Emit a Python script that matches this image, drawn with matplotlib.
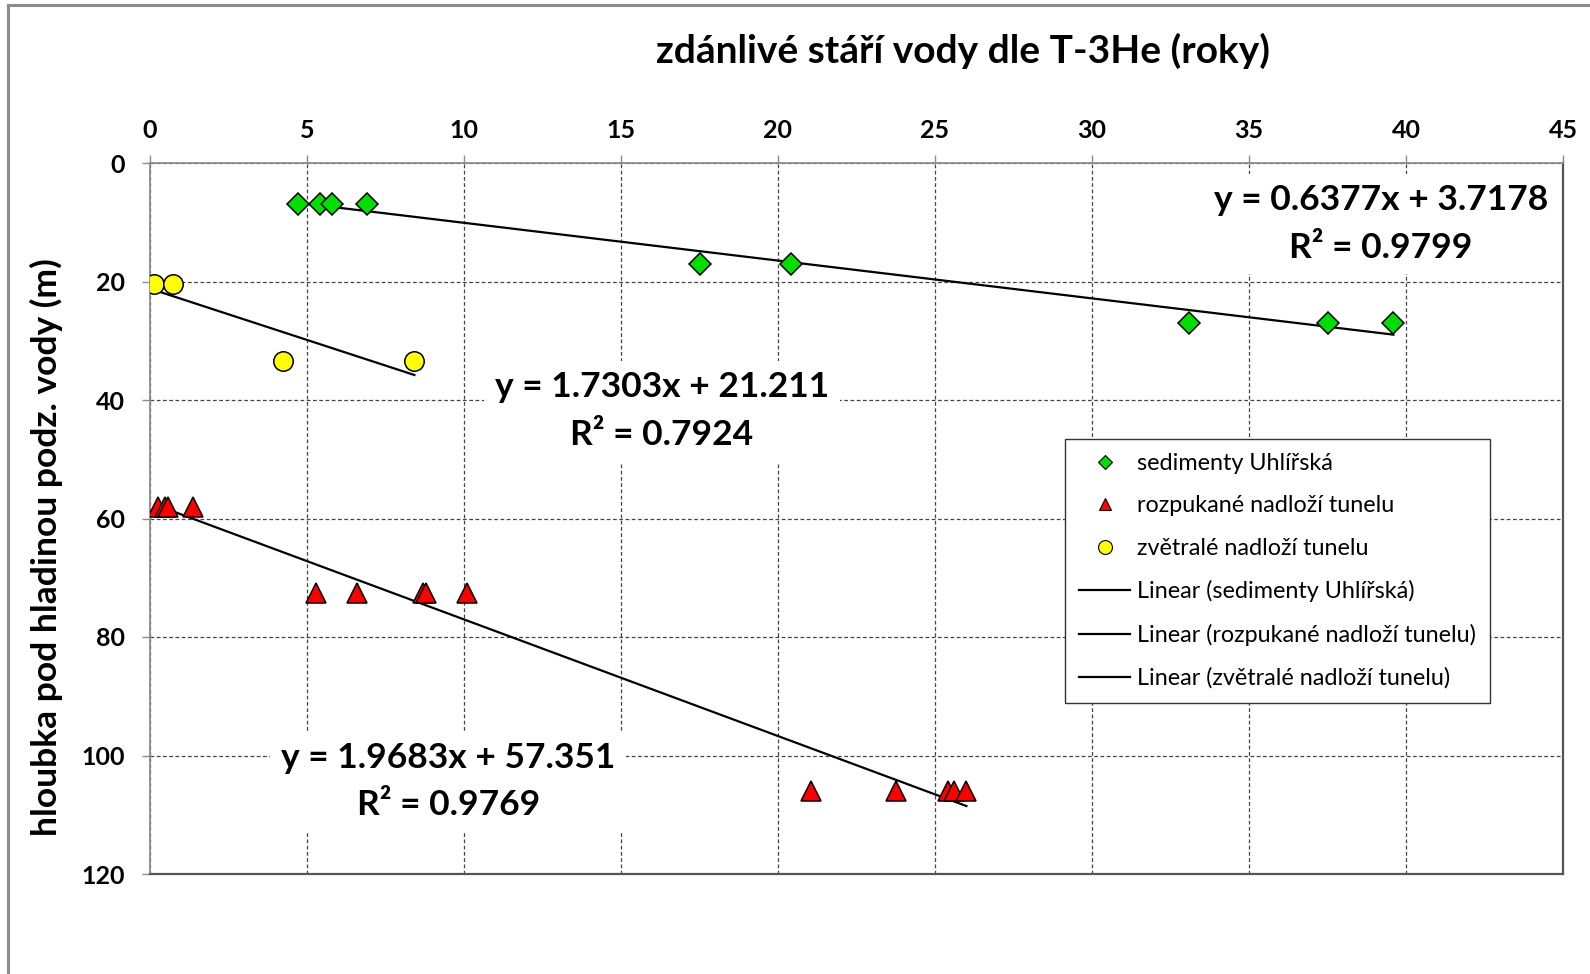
import matplotlib
matplotlib.use("Agg")
import matplotlib.pyplot as plt
from matplotlib.lines import Line2D

plt.rcParams['font.family'] = ['Lato', 'DejaVu Sans']

# apparent water age (years) vs. depth below water table (m)
sed_x = [4.7, 5.4, 5.8, 6.9, 17.5, 20.4, 33.1, 37.5, 39.6]
sed_y = [7, 7, 7, 7, 17, 17, 27, 27, 27]

roz_x = [0.26, 0.48, 0.58, 1.36, 5.3, 6.6, 8.7, 8.8, 10.1, 21.05, 23.75, 25.4, 25.6, 26.0]
roz_y = [58, 58, 58, 58, 72.5, 72.5, 72.5, 72.5, 72.5, 106, 106, 106, 106, 106]

zve_x = [0.14, 0.72, 4.22, 8.42]
zve_y = [20.5, 20.5, 33.5, 33.5]

# linear trends (slope, intercept, R2)
sed_fit = (0.6377, 3.7178, 0.9799)
roz_fit = (1.9683, 57.351, 0.9769)
zve_fit = (1.7303, 21.211, 0.7924)
fit_text = ['y = 0.6377x + 3.7178\nR² = 0.9799',
            'y = 1.9683x + 57.351\nR² = 0.9769',
            'y = 1.7303x + 21.211\nR² = 0.7924']

names = ['sedimenty Uhlířská', 'rozpukané nadloží tunelu', 'zvětralé nadloží tunelu']

W, H = 1590, 974
fig = plt.figure(figsize=(W / 100, H / 100), dpi=100)
ax = fig.add_axes([150 / W, 1 - 874 / H, (1563 - 150) / W, (874 - 163) / H])

# chart border (only top and left edges show)
fig.add_artist(Line2D([8 / W, 1], [1 - 5 / H, 1 - 5 / H], transform=fig.transFigure, color='#8c8c8c', lw=2.2))
fig.add_artist(Line2D([8 / W, 8 / W], [0, 1 - 5 / H], transform=fig.transFigure, color='#8c8c8c', lw=2.2))


def trend(xs, fit):
    x0, x1 = min(xs), max(xs)
    return [x0, x1], [fit[0] * x0 + fit[1], fit[0] * x1 + fit[1]]


for xs, fit in [(sed_x, sed_fit), (roz_x, roz_fit), (zve_x, zve_fit)]:
    tx, ty = trend(xs, fit)
    ax.plot(tx, ty, color='black', lw=1.6, zorder=3)

ax.plot(sed_x, sed_y, 'D', ms=11, mfc='#00e000', mec='black', mew=1.1, ls='none', zorder=4)
ax.plot(roz_x, roz_y, '^', ms=15, mfc='#ff0000', mec='black', mew=1.1, ls='none', zorder=4)
ax.plot(zve_x, zve_y, 'o', ms=14, mfc='#ffff00', mec='black', mew=1.1, ls='none', zorder=4)

ax.set_xlim(0, 45)
ax.set_ylim(120, 0)
ax.set_xticks(range(0, 46, 5))
ax.set_yticks(range(0, 121, 20))
ax.xaxis.tick_top()
ax.tick_params(axis='both', direction='out', length=6, width=1, color='#8c8c8c',
               labelsize=18)
ax.tick_params(axis='x', pad=9)
ax.tick_params(axis='y', pad=12)
for lab in ax.get_xticklabels() + ax.get_yticklabels():
    lab.set_fontweight('bold')

ax.grid(True, color='#444444', lw=0.9, ls=(0, (3, 2)))
ax.set_axisbelow(True)
for side in ['top', 'left']:
    ax.spines[side].set_color('#8c8c8c')
    ax.spines[side].set_linewidth(1.3)
for side in ['right', 'bottom']:
    ax.spines[side].set_color('#555555')
    ax.spines[side].set_linewidth(1.6)

fig.text(963 / W, 1 - 51 / H, 'zdánlivé stáří vody dle T-3He (roky)', ha='center', va='center',
         fontsize=28, fontweight='bold')
fig.text(46 / W, 1 - 547 / H, 'hloubka pod hladinou podz. vody (m)', ha='center', va='center',
         rotation=90, fontsize=25.5, fontweight='bold')

box = dict(boxstyle='square,pad=0.3', fc='white', ec='none')
for txt, (lx, ly) in zip(fit_text, [(39.2, 10.3), (9.5, 104.4), (16.3, 41.9)]):
    ax.text(lx, ly, txt, ha='center', va='center', multialignment='center',
            fontsize=25.5, fontweight='bold', linespacing=1.6, bbox=box, zorder=5)

handles = [
    Line2D([], [], marker='D', ms=7, mfc='#00e000', mec='black', mew=0.8, ls='none'),
    Line2D([], [], marker='^', ms=9, mfc='#ff0000', mec='black', mew=0.8, ls='none'),
    Line2D([], [], marker='o', ms=10, mfc='#ffff00', mec='black', mew=0.8, ls='none'),
    Line2D([], [], color='black', lw=1.6),
    Line2D([], [], color='black', lw=1.6),
    Line2D([], [], color='black', lw=1.6),
]
labels = names + ['Linear (%s)' % n for n in names]
leg = ax.legend(handles, labels, loc='upper left',
                bbox_to_anchor=((1065 - 150) / (1563 - 150), 1 - (439 - 163) / (874 - 163)),
                fontsize=16.8, frameon=True, fancybox=False, framealpha=1, edgecolor='#333333',
                handlelength=2.2, handletextpad=0.3, labelspacing=0.92, borderpad=0.6,
                borderaxespad=0)
leg.get_frame().set_linewidth(1.0)
leg.set_zorder(6)

fig.savefig('out.png', dpi=100)
